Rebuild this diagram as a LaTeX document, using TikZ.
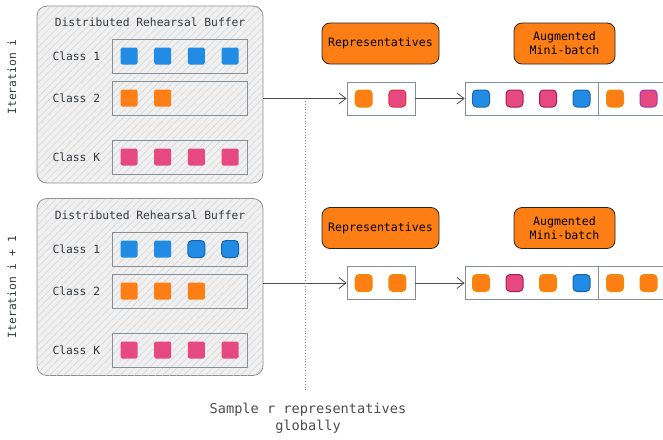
\documentclass[tikz,border=0pt]{standalone}
\usepackage{fontspec}
\setmonofont{DejaVu Sans Mono}
\usetikzlibrary{arrows.meta,positioning,patterns.meta}
\definecolor{exblue}{HTML}{228BE6}
\definecolor{exblueD}{HTML}{1864AB}
\definecolor{exorange}{HTML}{FD7E14}
\definecolor{exorangeD}{HTML}{F08C00}
\definecolor{expink}{HTML}{E64980}
\definecolor{expinkD}{HTML}{A61E4D}
\definecolor{exred}{HTML}{E03131}
\definecolor{expurple}{HTML}{9C36B5}
\definecolor{inkgray}{HTML}{343A40}
\definecolor{linegray}{HTML}{868E96}

\begin{document}
\begin{tikzpicture}[x=1pt, y=-1pt,
  font=\ttfamily\fontsize{11.3}{13}\selectfont, text=inkgray,
  buffer/.style={draw=linegray, line width=0.8pt, rounded corners=10pt, fill=black!6,
    postaction={pattern={Lines[angle=45,distance=5pt,line width=0.5pt]}, pattern color=black!17},
    minimum width=226pt, minimum height=177pt, inner sep=0pt},
  row/.style={draw=linegray, line width=0.8pt, minimum width=135pt, minimum height=34pt, inner sep=0pt},
  sample/.style={rounded corners=2pt, minimum size=17pt, inner sep=0pt},
  pick/.style={sample, rounded corners=4pt, minimum size=17pt, line width=1pt, draw=#1},
  header/.style={draw=black!85, line width=0.8pt, fill=exorange, rounded corners=8pt,
    minimum height=41pt, inner sep=0pt, align=center, text=black,
    font=\ttfamily\fontsize{11.6}{14}\selectfont},
  batch/.style={draw=linegray, line width=0.8pt, minimum height=33pt, inner sep=0pt},
  link/.style={draw=black!70, line width=0.8pt, -{Straight Barb[length=7pt,width=11pt]}}
  ]
  \useasboundingbox (0,0) rectangle (663,439);

  % iteration i
  \node[rotate=90] (it1) at (12,77) {Iteration i};
  \node[buffer] (buf1) at (150,94.5) {};
  \node (title1) at (150,22) {Distributed Rehearsal Buffer};
  \node[row] (row1a) at (179.5,56) {};
  \node[row] (row1b) at (179.5,98) {};
  \node[row] (row1k) at (179.5,157) {};
  \node[anchor=west] (lab1a) at (49,56) {Class 1};
  \node[anchor=west] (lab1b) at (49,98) {Class 2};
  \node[anchor=west] (lab1k) at (49,157) {Class K};
  \foreach \k in {1,...,4}
    \node[sample, fill=exblue] (s1a\k) at (95.3+33.7*\k,56) {};
  \foreach \k in {1,2}
    \node[sample, fill=exorange] (s1b\k) at (95.3+33.7*\k,98) {};
  \foreach \k in {1,...,4}
    \node[sample, fill=expink] (s1k\k) at (95.3+33.7*\k,157) {};

  \node[header, minimum width=117pt] (rep1) at (380.5,43.5) {Representatives};
  \node[header, minimum width=101pt] (aug1) at (564.5,43.5) {Augmented\\Mini-batch};
  \node[batch, minimum width=68pt] (pick1) at (381,98.5) {};
  \node[batch, minimum width=133pt] (mb1a) at (531.5,98.5) {};
  \node[batch, minimum width=133pt] (mb1b) at (664.5,98.5) {};
  \foreach \f/\d [count=\k] in {exorange/exorangeD, expink/exred}
    \node[pick=\d, fill=\f] (p1\k) at (330+33.7*\k,98.5) {};
  \foreach \f/\d [count=\k] in {exblue/exblueD, expink/expinkD, expink/expinkD,
                               exblue/exblueD, exorange/exorangeD, expink/expurple}
    \node[pick=\d, fill=\f] (m1\k) at (447.5+33.5*\k,98.5) {};
  \draw[link] (buf1.east |- pick1) -- (pick1);
  \draw[link] (pick1) -- (mb1a);

  % iteration i + 1
  \node[rotate=90] (it2) at (12,287) {Iteration i + 1};
  \node[buffer] (buf2) at (150,287) {};
  \node (title2) at (150,215) {Distributed Rehearsal Buffer};
  \node[row] (row2a) at (179.5,249) {};
  \node[row] (row2b) at (179.5,291) {};
  \node[row] (row2k) at (179.5,350) {};
  \node[anchor=west] (lab2a) at (49,249) {Class 1};
  \node[anchor=west] (lab2b) at (49,291) {Class 2};
  \node[anchor=west] (lab2k) at (49,350) {Class K};
  \foreach \k in {1,2}
    \node[sample, fill=exblue] (s2a\k) at (95.3+33.7*\k,249) {};
  \foreach \k in {3,4}
    \node[pick=exblueD, fill=exblue] (s2a\k) at (95.3+33.7*\k,249) {};
  \foreach \k in {1,...,3}
    \node[sample, fill=exorange] (s2b\k) at (95.3+33.7*\k,291) {};
  \foreach \k in {1,...,4}
    \node[sample, fill=expink] (s2k\k) at (95.3+33.7*\k,350) {};

  \node[header, minimum width=117pt] (rep2) at (380.5,228) {Representatives};
  \node[header, minimum width=101pt] (aug2) at (564.5,228) {Augmented\\Mini-batch};
  \node[batch, minimum width=68pt] (pick2) at (381,283) {};
  \node[batch, minimum width=133pt] (mb2a) at (531.5,283) {};
  \node[batch, minimum width=133pt] (mb2b) at (664.5,283) {};
  \foreach \k in {1,2}
    \node[pick=exorangeD, fill=exorange] (p2\k) at (330+33.7*\k,283) {};
  \foreach \f/\d [count=\k] in {exorange/exorangeD, expink/expinkD, exorange/exorangeD,
                               exblue/exblueD, exorange/exorangeD, exorange/exorangeD}
    \node[pick=\d, fill=\f] (m2\k) at (447.5+33.5*\k,283) {};
  \draw[link] (buf2.east |- pick2) -- (pick2);
  \draw[link] (pick2) -- (mb2a);

  % global sampling
  \coordinate (dtop) at (305,101);
  \coordinate (dbot) at (305,390);
  \draw[linegray, dotted, line width=0.8pt] (dtop) -- (dbot);
  \node[align=center, text=black!70, font=\ttfamily\fontsize{13.6}{17}\selectfont] (cap) at (308,418.5)
    {Sample r representatives\\globally};
\end{tikzpicture}
\end{document}
